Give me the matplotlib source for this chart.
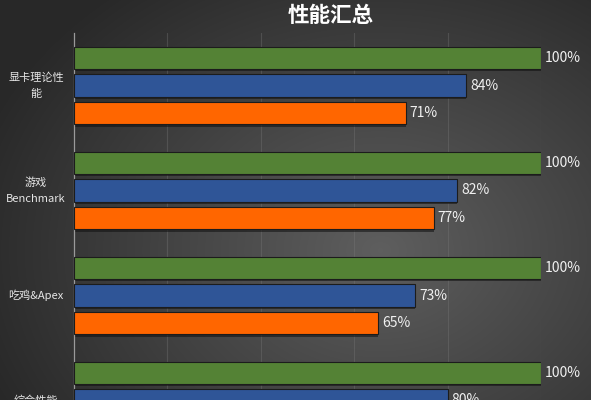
import numpy as np
import matplotlib
matplotlib.use('Agg')
from matplotlib import pyplot as plt

plt.rcParams['font.family'] = ['Noto Sans CJK SC', 'DejaVu Sans']

# data
categories = ['显卡理论性\n能', '游戏\nBenchmark', '吃鸡&Apex', '综合性能']
green_vals = [100, 100, 100, 100]
blue_vals = [84, 82, 73, 80]
orange_vals = [71, 77, 65, 71]  # last one is off the picture, estimate
title = '性能汇总'

fig = plt.figure(figsize=(5.91, 4.0), dpi=100)

# radial gray background
bg = fig.add_axes([0, 0, 1, 1], zorder=-10)
yy, xx = np.mgrid[0:400, 0:591]
d = np.sqrt(((xx - 380) / 420.0) ** 2 + ((yy - 250) / 330.0) ** 2)
d = np.clip(d, 0, 1)
shade = 0.37 - 0.21 * d
bg.imshow(np.dstack([shade, shade, shade]), aspect='auto', extent=[0, 1, 0, 1])
bg.axis('off')

ax = fig.add_axes([74 / 591, 1 - 453 / 400, 467 / 591, 420 / 400])
ax.set_facecolor('none')

y = np.arange(len(categories))
off = 0.264
h = 0.214
colors = ['#548235', '#2f5597', '#ff6600']
series = [green_vals, blue_vals, orange_vals]

for i, vals in enumerate(series):
    pos = y + (i - 1) * off
    ax.barh(pos + 0.022, vals, height=h, color='#111111', alpha=0.55, zorder=2)
    ax.barh(pos, vals, height=h, color=colors[i], edgecolor='#1c1c1c',
            linewidth=0.8, zorder=3)
    for p, v in zip(pos, vals):
        ax.text(v + 0.9, p, f'{v}%', va='center', ha='left', color='#f0f0f0',
                fontsize=10, clip_on=False, zorder=4)

for yi, cat in zip(y, categories):
    ax.text(-0.0814, yi, cat, transform=ax.get_yaxis_transform(), ha='center',
            va='center', color='#e6e6e6', fontsize=8, linespacing=1.7,
            clip_on=False)

ax.set_xlim(0, 100)
ax.set_ylim(3.5, -0.5)
ax.set_xticks([20, 40, 60, 80, 100])
ax.set_yticks([])
ax.tick_params(axis='x', length=0, labelbottom=False)
ax.grid(axis='x', color='#7a7a7a', linewidth=0.8, alpha=0.35, zorder=1)
for s in ['top', 'right', 'bottom']:
    ax.spines[s].set_visible(False)
ax.spines['left'].set_color('#9a9a9a')
ax.spines['left'].set_linewidth(0.9)

fig.text(331 / 591, 1 - 16 / 400, title, ha='center', va='center',
         color='white', fontsize=15.5, fontweight='bold')

fig.savefig('out.png', dpi=100)
